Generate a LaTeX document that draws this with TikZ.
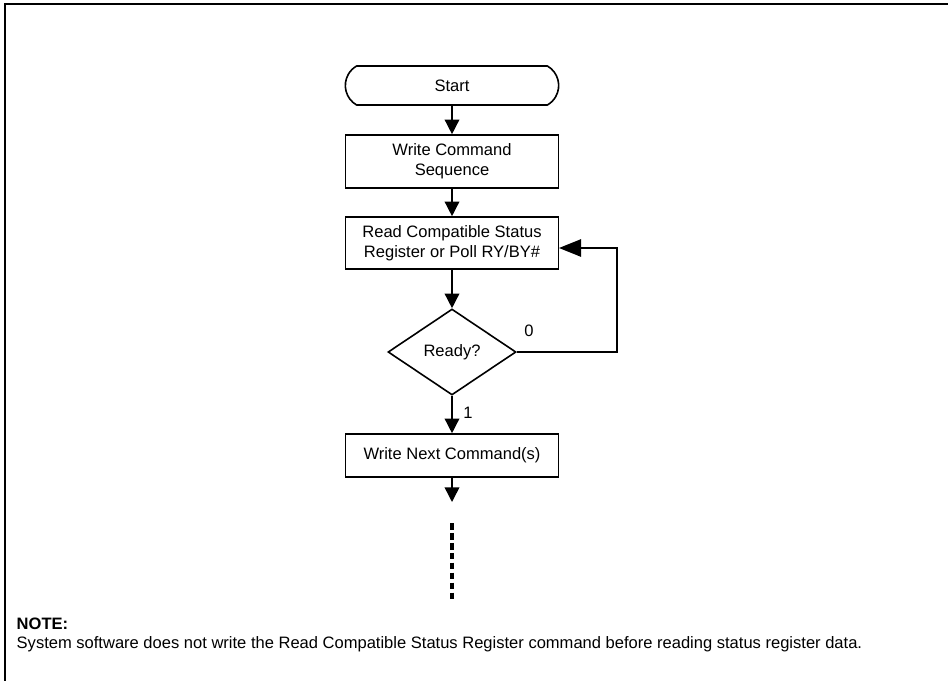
\documentclass[tikz,border=0pt]{standalone}
\usepackage{fontspec}
\setmainfont{Liberation Sans}
\usetikzlibrary{positioning,shapes.geometric,shapes.misc,arrows.meta}

\begin{document}
\begin{tikzpicture}[
    x=0.75pt, y=-0.75pt,
    every node/.style={font=\fontsize{12.4}{15}\selectfont},
    terminal/.style={rounded rectangle, rounded rectangle arc length=120, draw, line width=1.2pt, minimum width=160pt, minimum height=29.25pt, inner sep=0pt},
    box/.style={rectangle, draw, line width=1.2pt, minimum width=160pt, align=center, inner sep=0pt},
    decision/.style={diamond, draw, line width=1.2pt, minimum width=96pt, minimum height=64.5pt, inner sep=0pt},
    arrow/.style={-{Triangle[length=11pt,width=11pt]}, line width=1.1pt},
    backarrow/.style={-{Triangle[length=16.5pt,width=13pt]}, line width=1.1pt},
    frame/.style={line width=1.4pt}
]
\useasboundingbox (0,0) rectangle (948,681);

% Frame
\draw[frame] (948,4) -- (5,4) -- (5,681);

% Flow
\node[terminal] (start) at (452,85.5) {Start};
\node[box, minimum height=39.75pt] (writecmd) at (452,161.5) {Write Command\\Sequence};
\node[box, minimum height=39pt] (readsr) at (452,243) {Read Compatible Status\\Register or Poll RY/BY\#};
\node[decision] (ready) at (452,352) {Ready?};
\node[box, minimum height=32.25pt] (writenext) at (452,455.5) {Write Next Command(s)};

\coordinate (loopin) at (559,248);
\coordinate (nextend) at (452,502);
\coordinate (dashtop) at (452,523);
\coordinate (dashbot) at (452,600);

% Labels
\node (lblzero) at (529,331) {0};
\node (lblone) at (468,413) {1};

% Arrows
\draw[arrow] (start.south) -- (writecmd.north);
\draw[arrow] (writecmd.south) -- (readsr.north);
\draw[arrow] (readsr.south) -- (ready.north);
\draw[arrow] (ready.south) -- (writenext.north);
\draw[backarrow] (ready.east) -- ++(100,0) |- (loopin);
\draw[arrow] (writenext.south) -- (nextend);
\draw[line width=2.8pt, dash pattern=on 5pt off 2.45pt] (dashtop) -- (dashbot);

% Note
\node[anchor=base west] (notehead) at (12,629) {\bfseries NOTE:};
\node[anchor=base west] (notetext) at (12,648) {System software does not write the Read Compatible Status Register command before reading status register data.};

\end{tikzpicture}
\end{document}
